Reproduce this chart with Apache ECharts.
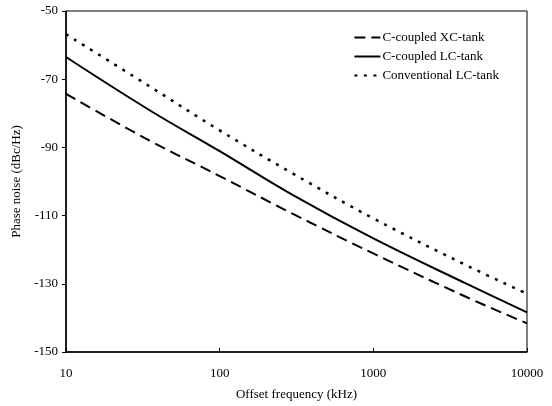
<!DOCTYPE html>
<html>
<head>
<meta charset="utf-8">
<script src="https://cdn.jsdelivr.net/npm/echarts@6/dist/echarts.min.js"></script>
<style>
  html, body { margin: 0; padding: 0; background: #fff; }
  #chart { width: 552px; height: 406px; }
</style>
</head>
<body>
<div id="chart"></div>
<script type="text/javascript">
	// offset frequency (kHz) where values were read
	var freqs = [10, 35, 100, 300, 1000, 4000, 10000];
	var xcTank = [-74.3, -88.0, -98.4, -109.5, -121.1, -133.8, -141.6];
	var lcTank = [-63.5, -79.1, -91.1, -104.0, -116.7, -129.9, -138.4];
	var convTank = [-56.8, -72.1, -85.0, -97.7, -110.8, -124.5, -132.9];
	var names = ['C-coupled XC-tank', 'C-coupled LC-tank', 'Conventional LC-tank'];

	function pairs(vals){
		var out = [];
		for (var i = 0; i < freqs.length; i++) out.push([freqs[i], vals[i]]);
		return out;
	}

	var font = 'Liberation Serif, Times New Roman, serif';
	var myChart = echarts.init(document.getElementById('chart'), null, {renderer: 'canvas'});
	var option = {
		animation: false,
		textStyle: { fontFamily: font, color: '#000' },
		grid: {
			left: 66, right: 25, top: 11, bottom: 54,
			show: true, borderColor: '#000', borderWidth: 1
		},
		legend: {
			orient: 'vertical',
			right: 48, top: 26,
			itemWidth: 26, itemHeight: 10, itemGap: 6,
			itemStyle: { opacity: 0 },
			textStyle: { fontFamily: font, fontSize: 13, color: '#000', padding: [0, 0, 0, -3] },
			data: names
		},
		xAxis: {
			type: 'log', logBase: 10, min: 10, max: 10000,
			name: 'Offset frequency (kHz)', nameLocation: 'middle', nameGap: 36,
			nameTextStyle: { fontFamily: font, fontSize: 13, color: '#000' },
			axisLine: { lineStyle: { color: '#000', width: 1.5 } },
			axisTick: { inside: true, length: 4, lineStyle: { color: '#000' } },
			axisLabel: { fontFamily: font, fontSize: 13, color: '#000', margin: 15,
				formatter: function (v) { return String(v); } },
			splitLine: { show: false }, minorTick: { show: false }
		},
		yAxis: {
			type: 'value', min: -150, max: -50, interval: 20,
			name: 'Phase noise (dBc/Hz)', nameLocation: 'middle', nameGap: 40,
			nameTextStyle: { fontFamily: font, fontSize: 13, color: '#000' },
			axisLine: { show: true, lineStyle: { color: '#000', width: 1.5 } },
			axisTick: { show: true, inside: false, length: 4, lineStyle: { color: '#000' } },
			axisLabel: { fontFamily: font, fontSize: 13, color: '#000', margin: 8 },
			splitLine: { show: false }
		},
		series: [
			{
				name: names[0], type: 'line', smooth: 0.4, symbol: 'none',
				lineStyle: { color: '#000', width: 2, type: [11, 6] },
				itemStyle: { color: '#000' },
				data: pairs(xcTank)
			},
			{
				name: names[1], type: 'line', smooth: 0.4, symbol: 'none',
				lineStyle: { color: '#000', width: 2, type: 'solid' },
				itemStyle: { color: '#000' },
				data: pairs(lcTank)
			},
			{
				name: names[2], type: 'line', smooth: 0.4, symbol: 'none',
				lineStyle: { color: '#000', width: 2.5, type: [3, 6.5] },
				itemStyle: { color: '#000' },
				data: pairs(convTank)
			}
		]
	};
	myChart.setOption(option);
</script>
</body>
</html>
